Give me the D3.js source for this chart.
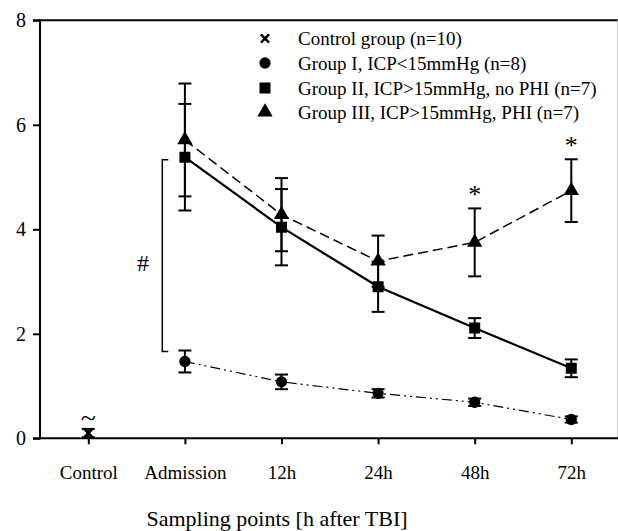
<!DOCTYPE html>
<html>
<head>
<meta charset="utf-8">
<script src="https://cdn.jsdelivr.net/npm/d3@7"></script>
<style>
  body { margin: 0; background: #fff; }
  text { font-family: "Liberation Serif", "Times New Roman", serif; fill: #000; }
</style>
</head>
<body>
<svg id="main_svg" width="618" height="531"></svg>
<script>
// categories along the x axis
const categories = ["Control", "Admission", "12h", "24h", "48h", "72h"]
const yTicks = [0, 2, 4, 6, 8]

// control group (single point)
const control_val = 0.1
const control_err = 0.08

// group I, ICP<15mmHg
const g1_val = [1.47, 1.08, 0.86, 0.69, 0.36]
const g1_err = [0.21, 0.14, 0.08, 0.07, 0.06]
// group II, ICP>15mmHg, no PHI
const g2_val = [5.38, 4.04, 2.90, 2.11, 1.34]
const g2_err = [1.02, 0.73, 0.48, 0.19, 0.17]
// group III, ICP>15mmHg, PHI
const g3_val = [5.71, 4.28, 3.39, 3.75, 4.74]
const g3_err = [1.08, 0.70, 0.49, 0.65, 0.60]

const timeCats = categories.slice(1)
const legend_labels = ["Control group (n=10)", "Group I, ICP<15mmHg (n=8)",
  "Group II, ICP>15mmHg, no PHI (n=7)", "Group III, ICP>15mmHg, PHI (n=7)"]

const svg = d3.select("#main_svg")
const p_left = 40, p_right = 617.5, p_top = 20.3, p_bottom = 438.3

const x = d3.scalePoint().domain(categories).range([p_left, 619.6]).padding(0.5)
const y = d3.scaleLinear().domain([0, 8]).range([p_bottom, p_top])

// frame
svg.append("line").attr("x1", 33).attr("x2", 618).attr("y1", p_top).attr("y2", p_top)
  .attr("stroke", "#000").attr("stroke-width", 2)
svg.append("line").attr("x1", p_right).attr("x2", p_right).attr("y1", p_top).attr("y2", p_bottom)
  .attr("stroke", "#ccc").attr("stroke-width", 1)

// axes
const yAxis = svg.append("g").attr("transform", "translate(" + p_left + ",0)")
  .call(d3.axisLeft(y).tickValues(yTicks).tickSize(7).tickPadding(7).tickFormat(d3.format("d")))
yAxis.select(".domain").remove()
yAxis.selectAll("line").attr("stroke-width", 2)
yAxis.selectAll("text").attr("font-size", 20).style("font-family", "Liberation Serif")
svg.append("line").attr("x1", p_left).attr("x2", p_left).attr("y1", p_top - 1).attr("y2", p_bottom + 1)
  .attr("stroke", "#000").attr("stroke-width", 2)

const xAxis = svg.append("g").attr("transform", "translate(0," + p_bottom + ")")
  .call(d3.axisBottom(x).tickSize(6).tickPadding(21))
xAxis.select(".domain").remove()
xAxis.selectAll("line").attr("stroke-width", 2)
xAxis.selectAll("text").attr("font-size", 19).style("font-family", "Liberation Serif")
svg.append("line").attr("x1", 33).attr("x2", 618).attr("y1", p_bottom).attr("y2", p_bottom)
  .attr("stroke", "#000").attr("stroke-width", 2)

svg.append("text").attr("x", 277).attr("y", 526).attr("text-anchor", "middle")
  .attr("font-size", 22).text("Sampling points [h after TBI]")

// significance bracket
const bx = 162.3
svg.append("path")
  .attr("d", "M" + (bx + 6) + "," + y(5.33) + "H" + bx + "V" + y(1.66) + "H" + (bx + 6))
  .attr("fill", "none").attr("stroke", "#000").attr("stroke-width", 1.5)
svg.append("text").attr("x", 143).attr("y", 271).attr("text-anchor", "middle")
  .attr("font-size", 24).text("#")

// lines
const line = d3.line().x((d, i) => x(timeCats[i])).y(d => y(d))
svg.append("path").datum(g1_val).attr("d", line).attr("fill", "none")
  .attr("stroke", "#000").attr("stroke-width", 1.2).attr("stroke-dasharray", "10,4,2,4,2,4")
svg.append("path").datum(g3_val).attr("d", line).attr("fill", "none")
  .attr("stroke", "#000").attr("stroke-width", 1.5).attr("stroke-dasharray", "10,5")
svg.append("path").datum(g2_val).attr("d", line).attr("fill", "none")
  .attr("stroke", "#000").attr("stroke-width", 2.2)

// error bars
function errbars(vals, errs, cats) {
  const g = svg.append("g").attr("stroke", "#000").attr("stroke-width", 2)
  vals.forEach((v, i) => {
    const cx = x(cats[i])
    const hi = y(v + errs[i]), lo = y(v - errs[i])
    g.append("line").attr("x1", cx).attr("x2", cx).attr("y1", hi).attr("y2", lo)
    g.append("line").attr("x1", cx - 6.5).attr("x2", cx + 6.5).attr("y1", hi).attr("y2", hi)
    g.append("line").attr("x1", cx - 6.5).attr("x2", cx + 6.5).attr("y1", lo).attr("y2", lo)
  })
}
errbars([control_val], [control_err], ["Control"])
errbars(g1_val, g1_err, timeCats)
errbars(g3_val, g3_err, timeCats)
errbars(g2_val, g2_err, timeCats)

// markers
const sym_circle = d3.symbol().type(d3.symbolCircle).size(75)
const sym_square = d3.symbol().type(d3.symbolSquare).size(90)
const sym_tri = d3.symbol().type(d3.symbolTriangle).size(70)
const sym_x = d3.symbol().type(d3.symbolTimes).size(45)

function markers(vals, cats, sym) {
  svg.append("g").selectAll("path").data(vals).join("path")
    .attr("transform", (d, i) => "translate(" + x(cats[i]) + "," + y(d) + ")")
    .attr("d", sym).attr("fill", "#000").attr("stroke", "#000").attr("stroke-width", 1.5)
}
markers(g1_val, timeCats, sym_circle)
markers(g2_val, timeCats, sym_square)
markers(g3_val, timeCats, sym_tri)
svg.append("path").attr("transform", "translate(" + x("Control") + "," + y(control_val) + ")")
  .attr("d", sym_x).attr("fill", "#000").attr("stroke", "#000").attr("stroke-width", 2.5)

// annotations
svg.append("text").attr("x", x("Control")).attr("y", 427).attr("text-anchor", "middle")
  .attr("font-size", 28).text("~")
svg.append("text").attr("x", x("48h")).attr("y", 203).attr("text-anchor", "middle")
  .attr("font-size", 26).text("*")
svg.append("text").attr("x", x("72h")).attr("y", 154).attr("text-anchor", "middle")
  .attr("font-size", 26).text("*")

// legend
const legend_syms = [sym_x, sym_circle, sym_square, sym_tri]
const legend_y = [38.5, 63, 88, 112]
legend_labels.forEach((lab, i) => {
  svg.append("path").attr("transform", "translate(265," + legend_y[i] + ")")
    .attr("d", legend_syms[i]).attr("fill", "#000").attr("stroke", "#000")
    .attr("stroke-width", i == 0 ? 2.5 : 1.5)
  svg.append("text").attr("x", 298).attr("y", legend_y[i]).attr("dy", "0.35em")
    .attr("font-size", 19).text(lab)
})
</script>
</body>
</html>
